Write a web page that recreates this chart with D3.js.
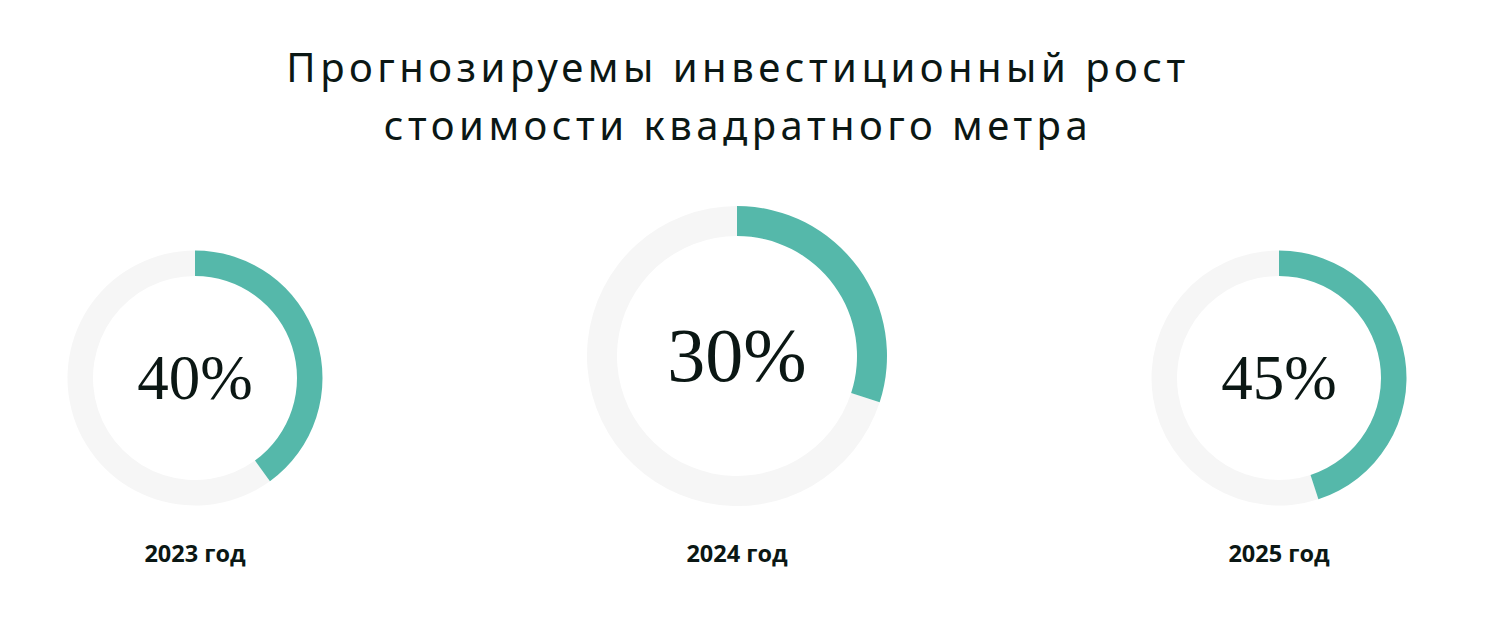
<!DOCTYPE html>
<html>
<head>
<meta charset="utf-8">
<script src="https://cdn.jsdelivr.net/npm/d3@7"></script>
<style>
  html, body { margin: 0; padding: 0; background: #fff; }
  svg { display: block; }
</style>
</head>
<body>
<svg id="chart" width="1502" height="631"></svg>
<script>
// title lines, years and forecast growth (percent)
var titleLines = ["Прогнозируемы инвестиционный рост", "стоимости квадратного метра"]
var years = ["2023 год", "2024 год", "2025 год"]
var values = [40, 30, 45]
var big = [false, true, false]   // the middle ring is drawn larger

var svg = d3.select('#chart')
var ink = '#0b1714'
var teal = '#55b8aa'
var track = '#f6f6f6'

var cx = d3.scalePoint().domain(years).range([195, 1279])
var angle = d3.scaleLinear().domain([0, 100]).range([0, 2 * Math.PI])
var arc = d3.arc()

// title
svg.append('g').selectAll('text')
  .data(titleLines)
  .enter().append('text')
  .attr('x', 738)
  .attr('y', (d, i) => 82 + i * 58)
  .attr('text-anchor', 'middle')
  .attr('font-family', '"Noto Sans", sans-serif')
  .attr('font-size', 40)
  .attr('letter-spacing', 4.5)
  .attr('fill', ink)
  .text(d => d)

var rings = svg.selectAll('g.ring')
  .data(years.map((y, i) => ({year: y, value: values[i], big: big[i]})))
  .enter().append('g')
  .attr('class', 'ring')
  .attr('transform', d => 'translate(' + cx(d.year) + ',' + (d.big ? 356 : 378) + ')')

rings.append('path')
  .attr('fill', track)
  .attr('d', d => arc({
    innerRadius: d.big ? 120 : 102,
    outerRadius: d.big ? 150 : 127.5,
    startAngle: angle(d.value),
    endAngle: angle(100)
  }))

rings.append('path')
  .attr('fill', teal)
  .attr('d', d => arc({
    innerRadius: d.big ? 120 : 102,
    outerRadius: d.big ? 150 : 127.5,
    startAngle: 0,
    endAngle: angle(d.value)
  }))

rings.append('text')
  .attr('text-anchor', 'middle')
  .attr('y', d => d.big ? 25 : 21)
  .attr('font-family', '"Liberation Serif", "Times New Roman", serif')
  .attr('font-size', d => d.big ? 76 : 63)
  .attr('fill', ink)
  .text(d => d.value + '%')

svg.selectAll('text.year')
  .data(years)
  .enter().append('text')
  .attr('class', 'year')
  .attr('x', d => cx(d))
  .attr('y', 562)
  .attr('text-anchor', 'middle')
  .attr('font-family', '"Open Sans", sans-serif')
  .attr('font-weight', 700)
  .attr('font-size', 23.5)
  .attr('fill', ink)
  .text(d => d)
</script>
</body>
</html>
